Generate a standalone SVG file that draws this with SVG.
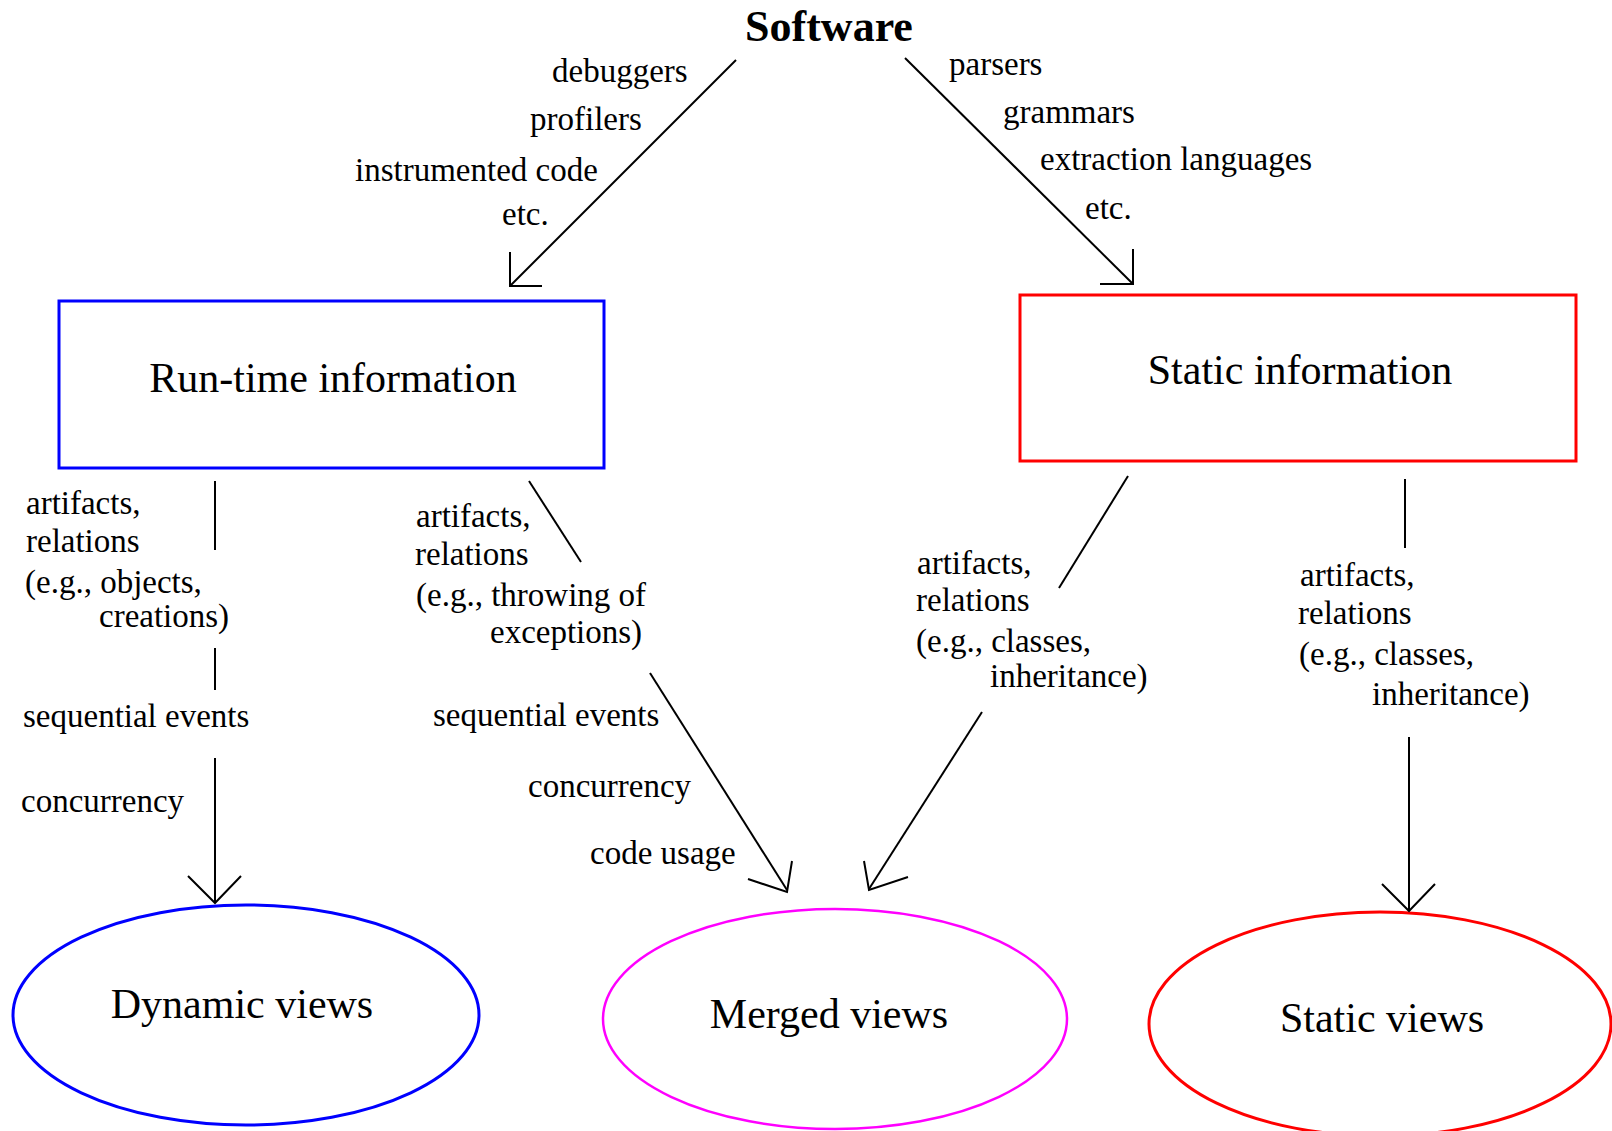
<svg xmlns="http://www.w3.org/2000/svg" width="1612" height="1131" viewBox="0 0 1612 1131">
<style>
text{font-family:"Liberation Serif","Times New Roman",serif;fill:#000}
.lbl{font-size:33px}
.big{font-size:42px}
.ttl{font-size:44px;font-weight:bold}
.ln{stroke:#000;stroke-width:2;fill:none}
.box{fill:#fff;stroke-width:3}
</style>
<rect width="1612" height="1131" fill="#fff"/>
<g id="software"><text class="ttl" x="829" y="41" text-anchor="middle">Software</text></g>
<g id="runtime"><rect class="box" x="59" y="301" width="545" height="167" stroke="#0000ff"/><text class="big" x="333" y="392" text-anchor="middle">Run-time information</text></g>
<g id="static"><rect class="box" x="1020" y="295" width="556" height="166" stroke="#ff0000"/><text class="big" x="1300" y="384" text-anchor="middle">Static information</text></g>
<g id="dynamic-views"><ellipse cx="246" cy="1015" rx="233" ry="110" fill="#fff" stroke="#0000ff" stroke-width="3"/><text class="big" x="242" y="1018" text-anchor="middle">Dynamic views</text></g>
<g id="merged-views"><ellipse cx="835" cy="1019" rx="232" ry="110" fill="#fff" stroke="#ff00ff" stroke-width="2.5"/><text class="big" x="829" y="1028" text-anchor="middle">Merged views</text></g>
<g id="static-views"><ellipse cx="1380" cy="1024" rx="231" ry="112" fill="#fff" stroke="#ff0000" stroke-width="3"/><text class="big" x="1382" y="1032" text-anchor="middle">Static views</text></g>
<g id="connectors">
<line class="ln" x1="736" y1="60" x2="510" y2="286"/>
<polyline class="ln" points="510,252 510,286 542,286"/>
<line class="ln" x1="905" y1="58" x2="1133" y2="284"/>
<polyline class="ln" points="1100,284 1133,284 1133,249"/>
<line class="ln" x1="215" y1="481" x2="215" y2="550"/>
<line class="ln" x1="215" y1="648" x2="215" y2="690"/>
<line class="ln" x1="215" y1="758" x2="215" y2="903"/>
<polyline class="ln" points="188,876 215,903 241,876"/>
<line class="ln" x1="529" y1="481" x2="581" y2="562"/>
<line class="ln" x1="650" y1="673" x2="787" y2="890"/>
<polyline class="ln" points="748,879 787,892 792,861" stroke-width="2.5"/>
<line class="ln" x1="1128" y1="476" x2="1059" y2="588"/>
<line class="ln" x1="982" y1="712" x2="869" y2="889"/>
<polyline class="ln" points="864,861 869,890 908,877" stroke-width="2.5"/>
<line class="ln" x1="1405" y1="479" x2="1405" y2="548"/>
<line class="ln" x1="1409" y1="737" x2="1409" y2="911"/>
<polyline class="ln" points="1382,884 1409,911 1435,884"/>
</g>
<g id="labels">
<text class="lbl" x="552" y="82">debuggers</text>
<text class="lbl" x="530" y="130">profilers</text>
<text class="lbl" x="355" y="181">instrumented code</text>
<text class="lbl" x="502" y="225">etc.</text>
<text class="lbl" x="949" y="75">parsers</text>
<text class="lbl" x="1003" y="123">grammars</text>
<text class="lbl" x="1040" y="170">extraction languages</text>
<text class="lbl" x="1085" y="219">etc.</text>
<text class="lbl" x="26" y="514">artifacts,</text>
<text class="lbl" x="26" y="552">relations</text>
<text class="lbl" x="25" y="593">(e.g., objects,</text>
<text class="lbl" x="99" y="627">creations)</text>
<text class="lbl" x="23" y="727">sequential events</text>
<text class="lbl" x="21" y="812">concurrency</text>
<text class="lbl" x="416" y="527">artifacts,</text>
<text class="lbl" x="415" y="565">relations</text>
<text class="lbl" x="416" y="606">(e.g., throwing of</text>
<text class="lbl" x="490" y="643">exceptions)</text>
<text class="lbl" x="433" y="726">sequential events</text>
<text class="lbl" x="528" y="797">concurrency</text>
<text class="lbl" x="590" y="864">code usage</text>
<text class="lbl" x="917" y="574">artifacts,</text>
<text class="lbl" x="916" y="611">relations</text>
<text class="lbl" x="916" y="652">(e.g., classes,</text>
<text class="lbl" x="990" y="687">inheritance)</text>
<text class="lbl" x="1300" y="586">artifacts,</text>
<text class="lbl" x="1298" y="624">relations</text>
<text class="lbl" x="1299" y="665">(e.g., classes,</text>
<text class="lbl" x="1372" y="705">inheritance)</text>
</g>
</svg>
